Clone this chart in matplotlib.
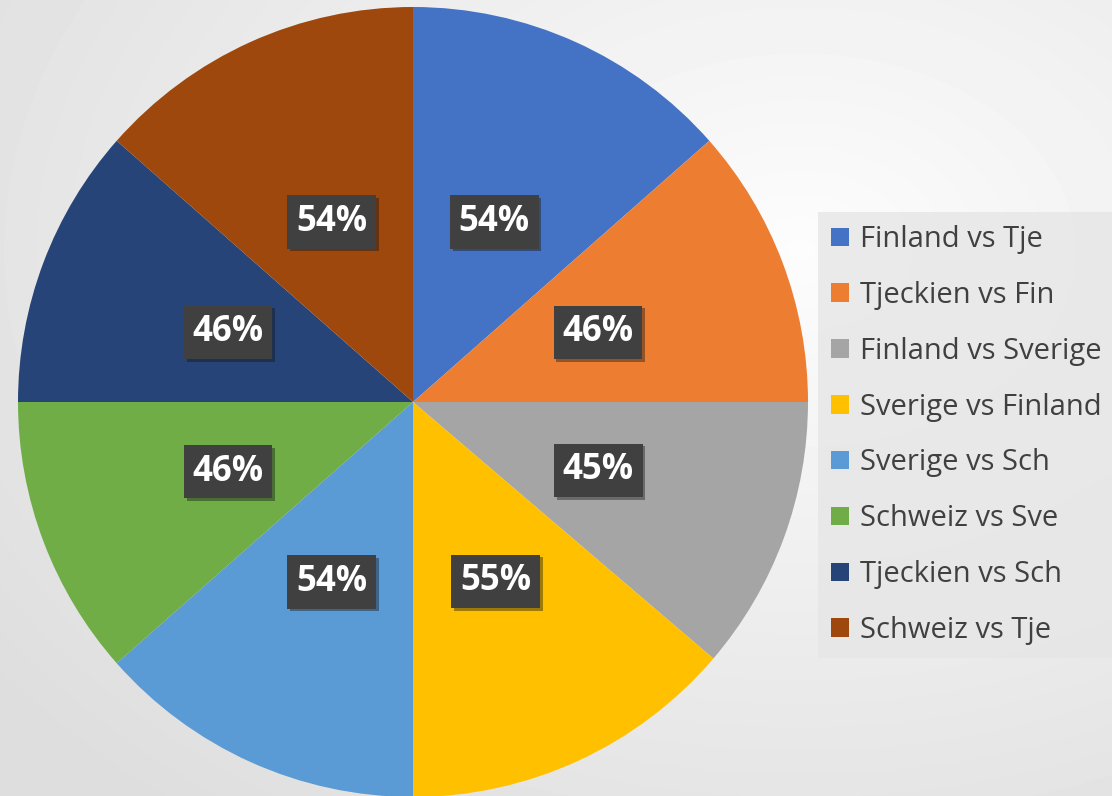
import matplotlib.pyplot as plt
import numpy as np
from matplotlib.patches import Patch
import matplotlib.patheffects as pe

labels = ["Finland vs Tje", "Tjeckien vs Fin", "Finland vs Sverige", "Sverige vs Finland",
          "Sverige vs Sch", "Schweiz vs Sve", "Tjeckien vs Sch", "Schweiz vs Tje"]
values = [54, 46, 45, 55, 54, 46, 46, 54]
colors = ["#4472C4", "#ED7D31", "#A5A5A5", "#FFC000",
          "#5B9BD5", "#70AD47", "#264478", "#9E480E"]

W, H = 1112, 796
fig = plt.figure(figsize=(W / 100, H / 100), dpi=100)

# soft radial background
bg = fig.add_axes([0, 0, 1, 1], zorder=0)
yy, xx = np.mgrid[0:H, 0:W]
d = np.hypot((xx - 800) / W, (yy - 250) / H)
shade = 0.99 - 0.12 * np.clip(d / 0.9, 0, 1)
bg.imshow(shade, cmap="gray", vmin=0, vmax=1, extent=[0, W, H, 0], aspect="auto")
bg.axis("off")

cx, cy, r = 413, 402, 395
ax = fig.add_axes([(cx - r) / W, (H - cy - r) / H, 2 * r / W, 2 * r / H], zorder=1)
ax.patch.set_alpha(0)

wedges, texts = ax.pie(values, colors=colors, startangle=90, counterclock=False,
                       radius=1.0, labels=[f"{v}%" for v in values], labeldistance=0.5,
                       wedgeprops=dict(linewidth=0))
for t in texts:
    t.set_ha("center")
    t.set_va("center")
    t.set_color("white")
    t.set_fontsize(25)
    t.set_fontweight("bold")
    t.set_fontfamily("Open Sans")
    t.set_bbox(dict(boxstyle="square,pad=0.25", facecolor="#404040", edgecolor="none",
                    path_effects=[pe.withSimplePatchShadow(offset=(2, -2), alpha=0.4)]))
ax.set_xlim(-1, 1)
ax.set_ylim(-1, 1)
ax.set_aspect("equal")
ax.axis("off")

handles = [Patch(facecolor=c, edgecolor="none") for c in colors]
leg = fig.legend(handles, labels, loc="upper left", bbox_to_anchor=(818 / W, 1 - 212 / H),
                 frameon=True, fancybox=False, labelcolor="#404040",
                 prop={"family": "Open Sans", "size": 21},
                 handlelength=0.6, handleheight=0.6, handletextpad=0.4,
                 labelspacing=0.92, borderpad=0.45, borderaxespad=0)
leg.get_frame().set_facecolor("#e6e6e6")
leg.get_frame().set_edgecolor("none")
leg.set_zorder(3)

fig.savefig("out.png", dpi=100)
